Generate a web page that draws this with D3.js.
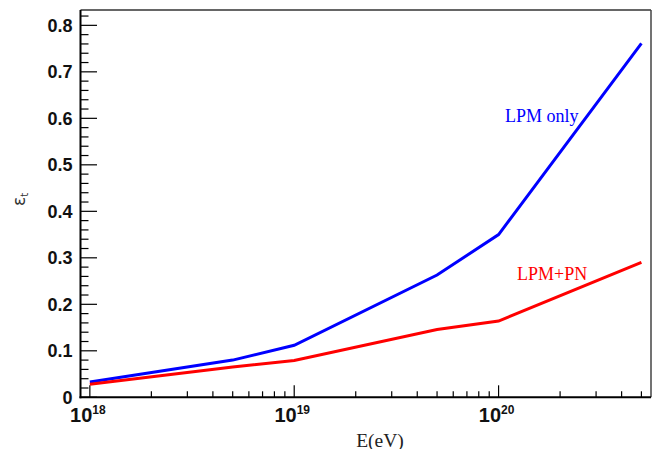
<!DOCTYPE html>
<html>
<head>
<meta charset="utf-8">
<script src="https://cdn.jsdelivr.net/npm/d3@7"></script>
<style>
  html, body { margin: 0; padding: 0; background: #fff; }
  svg { display: block; }
</style>
</head>
<body>
<svg id="chart" width="659" height="449"></svg>
<script>
// ---- data ----
const energies = [1e18, 5e18, 1e19, 5e19, 1e20, 5e20];
const lpmOnly  = [0.033, 0.080, 0.112, 0.263, 0.350, 0.761];
const lpmPN    = [0.028, 0.065, 0.079, 0.146, 0.164, 0.290];
const seriesNames = ["LPM only", "LPM+PN"];
const yTickValues = [0, 0.1, 0.2, 0.3, 0.4, 0.5, 0.6, 0.7, 0.8];
const yTickLabels = ["0", "0.1", "0.2", "0.3", "0.4", "0.5", "0.6", "0.7", "0.8"];
const xDecades = [18, 19, 20];
const xTitle = "E(eV)";

(function () {
// ---- layout ----
const svg = d3.select("#chart");
const pL = 80.5, pR = 651, pT = 10, pB = 397.3;

const x = d3.scaleLog().domain([9e17, 5.57e20]).range([pL, pR]);
const y = d3.scaleLinear().domain([0, 0.833]).range([pB, pT]);

svg.append("rect").attr("width", 659).attr("height", 449).attr("fill", "#fff");

// frame top/right
svg.append("line").attr("x1", pL).attr("x2", pR).attr("y1", pT).attr("y2", pT)
  .attr("stroke", "#333").attr("stroke-width", 1.3);
svg.append("line").attr("x1", pR).attr("x2", pR).attr("y1", pT).attr("y2", pB)
  .attr("stroke", "#444").attr("stroke-width", 1.5);

// y ticks
const yMinor = d3.range(0, 0.8301, 0.02).map(v => +v.toFixed(2));
const gy = svg.append("g");
yMinor.forEach(v => {
  const major = Math.abs(v * 10 - Math.round(v * 10)) < 1e-6;
  gy.append("line").attr("x1", pL).attr("x2", pL + (major ? 16.5 : 8))
    .attr("y1", y(v)).attr("y2", y(v)).attr("stroke", "#000").attr("stroke-width", 1.2);
});
yTickValues.forEach((v, i) => {
  gy.append("text").attr("x", 72.5).attr("y", y(v)).attr("dy", "0.36em")
    .attr("text-anchor", "end").attr("font-family", "Liberation Sans, Arial, sans-serif")
    .attr("font-weight", "bold").attr("font-size", 18).attr("fill", "#111")
    .text(yTickLabels[i]);
});

// x ticks
const gx = svg.append("g");
const [d0, d1] = x.domain();
for (let e = 17; e <= 20; e++) {
  for (let m = 1; m <= 9; m++) {
    const v = m * Math.pow(10, e);
    if (v < d0 * 1.0001 || v > d1) continue;
    const major = m === 1;
    gx.append("line").attr("x1", x(v)).attr("x2", x(v))
      .attr("y1", pB).attr("y2", pB - (major ? 12 : 6))
      .attr("stroke", "#000").attr("stroke-width", 1.2);
  }
}
xDecades.forEach(e => {
  const t = gx.append("text").attr("x", x(Math.pow(10, e)) - 2).attr("y", 422)
    .attr("text-anchor", "middle").attr("font-family", "Liberation Sans, Arial, sans-serif")
    .attr("font-weight", "bold").attr("fill", "#111");
  t.append("tspan").attr("font-size", 20).text("10");
  t.append("tspan").attr("font-size", 12).attr("dy", -8).text(String(e));
});

// axis lines
svg.append("line").attr("x1", pL).attr("x2", pL).attr("y1", pT).attr("y2", pB + 1)
  .attr("stroke", "#000").attr("stroke-width", 2);
svg.append("line").attr("x1", pL - 1).attr("x2", pR).attr("y1", pB).attr("y2", pB)
  .attr("stroke", "#000").attr("stroke-width", 2);

// lines
const line = d3.line().x(d => x(d[0])).y(d => y(d[1]));
const series = [
  { name: seriesNames[0], values: lpmOnly, color: "#0000ff" },
  { name: seriesNames[1], values: lpmPN, color: "#ff0000" }
];
series.forEach(s => {
  svg.append("path").datum(energies.map((e, i) => [e, s.values[i]]))
    .attr("d", line).attr("fill", "none").attr("stroke", s.color)
    .attr("stroke-width", 3).attr("stroke-linejoin", "miter");
});

// series labels
svg.append("text").attr("x", 505).attr("y", 121.7)
  .attr("font-family", "Liberation Serif, Times New Roman, serif").attr("font-size", 18)
  .attr("fill", "#0000ff").text(seriesNames[0]);
svg.append("text").attr("x", 517).attr("y", 280)
  .attr("font-family", "Liberation Serif, Times New Roman, serif").attr("font-size", 18)
  .attr("fill", "#ff0000").text(seriesNames[1]);

// x title
svg.append("text").attr("x", 380).attr("y", 446.5).attr("text-anchor", "middle")
  .attr("font-family", "Liberation Serif, Times New Roman, serif").attr("font-size", 19.5)
  .attr("fill", "#222").text(xTitle);

// y title: epsilon_t rotated
const yt = svg.append("text").attr("transform", "translate(25,206) rotate(-90)")
  .attr("font-family", "DejaVu Sans, sans-serif").attr("fill", "#333");
yt.append("tspan").attr("font-size", 17).text("\u03B5");
yt.append("tspan").attr("font-size", 10).attr("dy", 3).text("t");
})();
</script>
</body>
</html>
